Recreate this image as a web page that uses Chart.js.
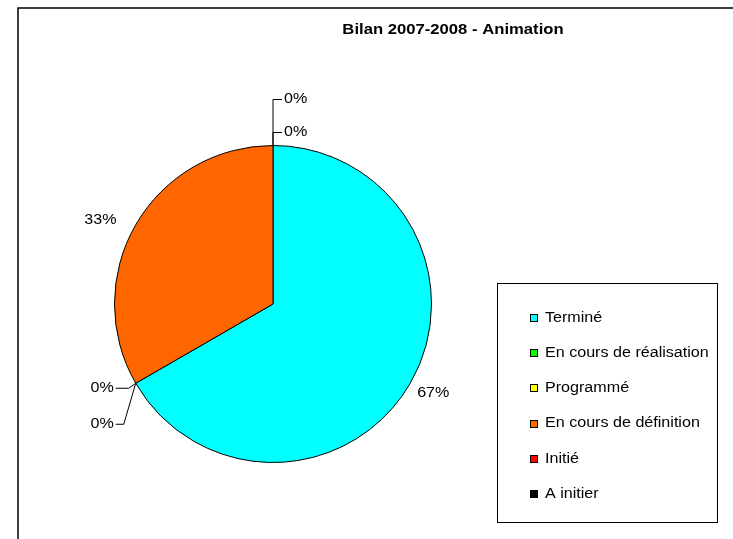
<!DOCTYPE html>
<html>
<head>
<meta charset="utf-8">
<title>Bilan 2007-2008 - Animation</title>
<script src="https://cdn.jsdelivr.net/npm/chart.js@4.4.1/dist/chart.umd.min.js"></script>
<style>
    body { margin: 0; background: #fff; }
    #zone { width: 733px; height: 539px; position: relative; }
</style>
</head>
<body>
<div id="zone"><canvas id="chartBilan" width="733" height="539"></canvas></div>
<script>
// Donnees du graphique (nombre d'actions par etat)
const categories = ['Terminé', 'En cours de réalisation', 'Programmé', 'En cours de définition', 'Initié', 'A initier'];
const valeurs = [2, 0, 0, 1, 0, 0];
const couleurs = ['#00FFFF', '#00FF00', '#FFFF00', '#FF6600', '#FF0000', '#000000'];
const titre = 'Bilan 2007-2008 - Animation';

var police = '"Liberation Sans", Arial, sans-serif';

// ecrit un texte elargi horizontalement (le texte d'origine est un peu elargi)
function texteEtire(ctx, txt, x, y, align, etirement) {
    ctx.save();
    ctx.translate(x, y);
    ctx.scale(etirement || 1.15, 1);
    ctx.textAlign = align;
    ctx.fillText(txt, 0, 0);
    ctx.restore();
}

// Cadre exterieur + titre
const cadrePlugin = {
    id: 'cadre',
    beforeDraw(chart) {
        const ctx = chart.ctx;
        ctx.save();
        ctx.fillStyle = '#fff';
        ctx.fillRect(0, 0, chart.width, chart.height);
        ctx.strokeStyle = '#000';
        ctx.lineWidth = 1.5;
        ctx.strokeRect(18, 8, 800, 600);
        ctx.fillStyle = '#000';
        ctx.font = 'bold 14px ' + police;
        ctx.textBaseline = 'middle';
        texteEtire(ctx, titre, 453, 30, 'center', 1.19);
        ctx.restore();
    }
};

// Legende dans un cadre a droite
const legendePlugin = {
    id: 'legende',
    afterDraw(chart) {
        const ctx = chart.ctx;
        const ds = chart.data.datasets[0];
        ctx.save();
        ctx.strokeStyle = '#000';
        ctx.lineWidth = 1;
        ctx.strokeRect(497.5, 283.5, 220, 239);
        ctx.font = '14px ' + police;
        ctx.textBaseline = 'middle';
        chart.data.labels.forEach(function(lbl, i) {
            var y = 318 + i * 35.2;
            ctx.fillStyle = ds.backgroundColor[i];
            ctx.fillRect(530, Math.round(y) - 4, 8, 8);
            ctx.strokeStyle = '#000';
            ctx.strokeRect(530.5, Math.round(y) - 3.5, 7, 7);
            ctx.fillStyle = '#000';
            texteEtire(ctx, lbl, 545, y, 'left');
        });
        ctx.restore();
    }
};

// Etiquettes de pourcentage (avec lignes de rappel pour les 0%)
const pourcentPlugin = {
    id: 'pourcent',
    afterDatasetsDraw(chart) {
        const ctx = chart.ctx;
        const meta = chart.getDatasetMeta(0);
        const data = chart.data.datasets[0].data;
        const total = data.reduce((a, b) => a + b, 0);
        var groupes = {};
        ctx.save();
        ctx.font = '14px ' + police;
        ctx.fillStyle = '#000';
        ctx.strokeStyle = '#000';
        ctx.lineWidth = 1;
        ctx.textBaseline = 'middle';
        meta.data.forEach(function(arc, i) {
            var p = arc.getProps(['x', 'y', 'startAngle', 'endAngle', 'outerRadius'], true);
            var texte = Math.round(data[i] / total * 100) + '%';
            if (data[i] > 0) {
                var mid = (p.startAngle + p.endAngle) / 2;
                var droite = Math.cos(mid) >= 0;
                var r = p.outerRadius * (droite ? 1.05 : 1.14);
                var tx = p.x + r * Math.cos(mid);
                var ty = p.y + r * Math.sin(mid) + 6;
                texteEtire(ctx, texte, tx, ty, droite ? 'left' : 'right');
                return;
            }
            var cle = p.startAngle.toFixed(3);
            var k = groupes[cle] || 0;
            groupes[cle] = k + 1;
            var ax = p.x + p.outerRadius * Math.cos(p.startAngle);
            var ay = p.y + p.outerRadius * Math.sin(p.startAngle);
            ctx.beginPath();
            ctx.moveTo(ax, ay);
            if (Math.abs(Math.cos(p.startAngle)) < 0.1) {
                // en haut : ligne verticale puis trait vers la droite
                var hy = ay - 13 - k * 33;
                ctx.lineTo(ax, hy);
                ctx.lineTo(ax + 9, hy);
                ctx.stroke();
                texteEtire(ctx, texte, ax + 11, hy, 'left');
            } else {
                var hy2 = ay + 5 + k * 36;
                ctx.lineTo(ax - 7 - k * 5, hy2);
                ctx.lineTo(ax - 20, hy2);
                ctx.stroke();
                texteEtire(ctx, texte, ax - 22, hy2, 'right');
            }
        });
        ctx.restore();
    }
};

new Chart(document.getElementById('chartBilan'), {
    type: 'pie',
    data: {
        labels: categories,
        datasets: [{
            data: valeurs,
            backgroundColor: couleurs,
            borderColor: '#000',
            borderWidth: 1
        }]
    },
    options: {
        responsive: false,
        animation: false,
        layout: {
            padding: { left: 114, top: 145, right: 301, bottom: 76 }
        },
        plugins: {
            legend: { display: false },
            title: { display: false },
            tooltip: { enabled: false }
        }
    },
    plugins: [cadrePlugin, legendePlugin, pourcentPlugin]
});
</script>
</body>
</html>
